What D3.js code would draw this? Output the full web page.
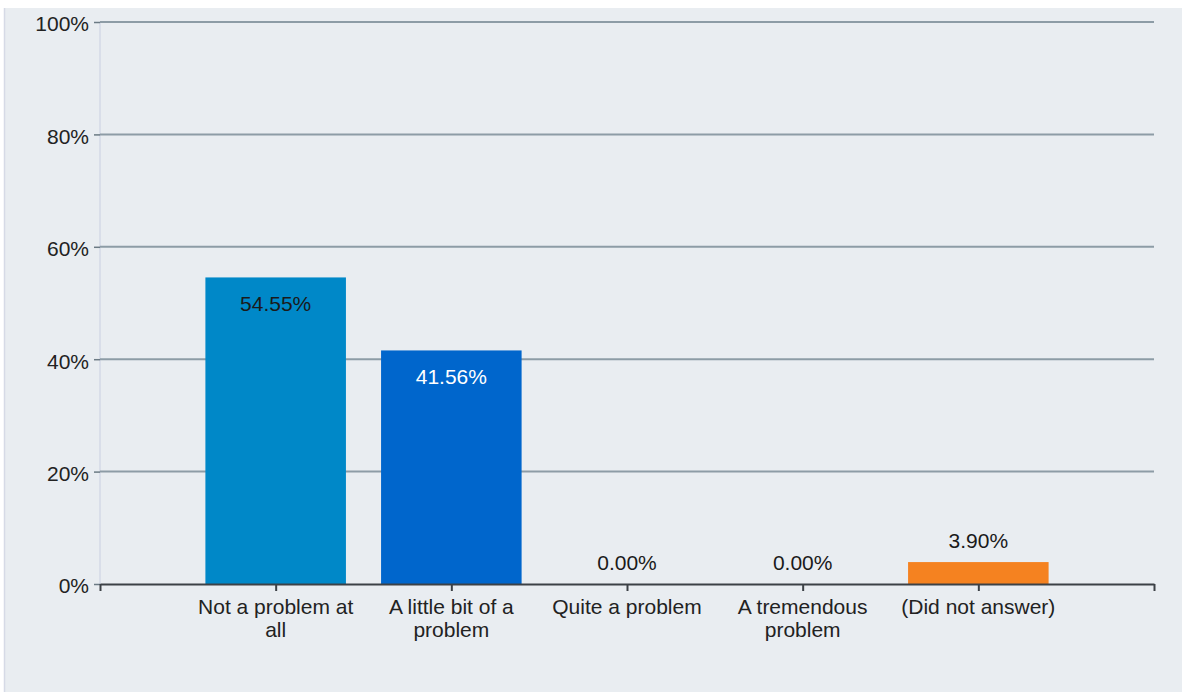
<!DOCTYPE html>
<html>
<head>
<meta charset="utf-8">
<script src="https://cdn.jsdelivr.net/npm/d3@7"></script>
<style>
  html, body { margin: 0; padding: 0; background: #ffffff; }
  svg { display: block; }
  text { font-family: "Liberation Sans", Arial, sans-serif; }
</style>
</head>
<body>
<svg id="chart" width="1182" height="693"></svg>
<script>
const categories = ["Not a problem at all", "A little bit of a problem", "Quite a problem", "A tremendous problem", "(Did not answer)"];
const categoryLines = [["Not a problem at", "all"], ["A little bit of a", "problem"], ["Quite a problem"], ["A tremendous", "problem"], ["(Did not answer)"]];
const values = [54.55, 41.56, 0.00, 0.00, 3.90];
const barColors = ["#0088c8", "#0066cc", "#0088c8", "#0066cc", "#f58220"];
const yTicks = [0, 20, 40, 60, 80, 100];
const yTickLabels = ["0%", "20%", "40%", "60%", "80%", "100%"];

const W = 1182, H = 693;
const FS = 21;
const plot = { left: 100, right: 1154, top: 22, bottom: 584 };
const svg = d3.select("#chart");

// background panel
svg.append("rect").attr("x", 5).attr("y", 8).attr("width", W - 5).attr("height", H - 9).attr("fill", "#e9edf1");
svg.append("line").attr("x1", 4.5).attr("x2", 4.5).attr("y1", 8).attr("y2", H - 1).attr("stroke", "#d6dae6").attr("stroke-width", 1.5);

const x = d3.scaleLinear().domain([0, categories.length + 1]).range([plot.left, plot.right]);
const y = d3.scaleLinear().domain([0, 100]).range([plot.bottom, plot.top]);
const step = x(1) - x(0);
const barW = step * 0.8;

// y-axis domain line (light)
svg.append("line").attr("x1", plot.left).attr("x2", plot.left).attr("y1", plot.top).attr("y2", plot.bottom)
  .attr("stroke", "#d3d9e6").attr("stroke-width", 1.5);

// gridlines
svg.append("g").selectAll("line").data(yTicks.filter(d => d > 0)).join("line")
  .attr("x1", plot.left).attr("x2", plot.right)
  .attr("y1", d => y(d)).attr("y2", d => y(d))
  .attr("stroke", "#8d9ca6").attr("stroke-width", 2);

// y axis
const yAxis = d3.axisLeft(y).tickValues(yTicks).tickFormat((d, i) => yTickLabels[i]).tickSizeInner(6).tickSizeOuter(0).tickPadding(5);
const gy = svg.append("g").attr("transform", `translate(${plot.left},0)`).call(yAxis);
gy.select(".domain").remove();
gy.selectAll(".tick line").attr("stroke", "#6b7a84").attr("stroke-width", 1.5);
gy.selectAll(".tick text").attr("font-size", FS).attr("fill", "#222").attr("dy", "0.42em")
  .attr("font-family", "'Liberation Sans', Arial, sans-serif");

// bars
svg.append("g").selectAll("rect").data(values).join("rect")
  .attr("x", (d, i) => x(i + 1) - barW / 2)
  .attr("width", barW)
  .attr("y", d => y(d))
  .attr("height", d => y(0) - y(d))
  .attr("fill", (d, i) => barColors[i]);

// x axis
const xAxis = d3.axisBottom(x).tickValues(d3.range(0, categories.length + 2)).tickFormat("").tickSizeInner(7).tickSizeOuter(0);
const gx = svg.append("g").attr("transform", `translate(0,${plot.bottom})`).call(xAxis);
gx.select(".domain").attr("stroke", "#3c4146").attr("stroke-width", 2);
gx.selectAll(".tick line").attr("stroke", "#3c4146").attr("stroke-width", 2);

// category labels
const lab = svg.append("g");
categoryLines.forEach((lines, i) => {
  const t = lab.append("text").attr("x", x(i + 1)).attr("y", plot.bottom + 30)
    .attr("text-anchor", "middle").attr("font-size", FS).attr("fill", "#222");
  lines.forEach((ln, j) => t.append("tspan").attr("x", x(i + 1)).attr("dy", j === 0 ? 0 : 23).text(ln));
});

// value labels
svg.append("g").selectAll("text").data(values).join("text")
  .attr("x", (d, i) => x(i + 1))
  .attr("y", (d, i) => d > 30 ? y(d) + 34 : y(d) - 14)
  .attr("text-anchor", "middle").attr("font-size", FS)
  .attr("fill", (d, i) => (d > 30 && i === 1) ? "#ffffff" : "#1a1a1a")
  .text(d => d.toFixed(2) + "%");
</script>
</body>
</html>
